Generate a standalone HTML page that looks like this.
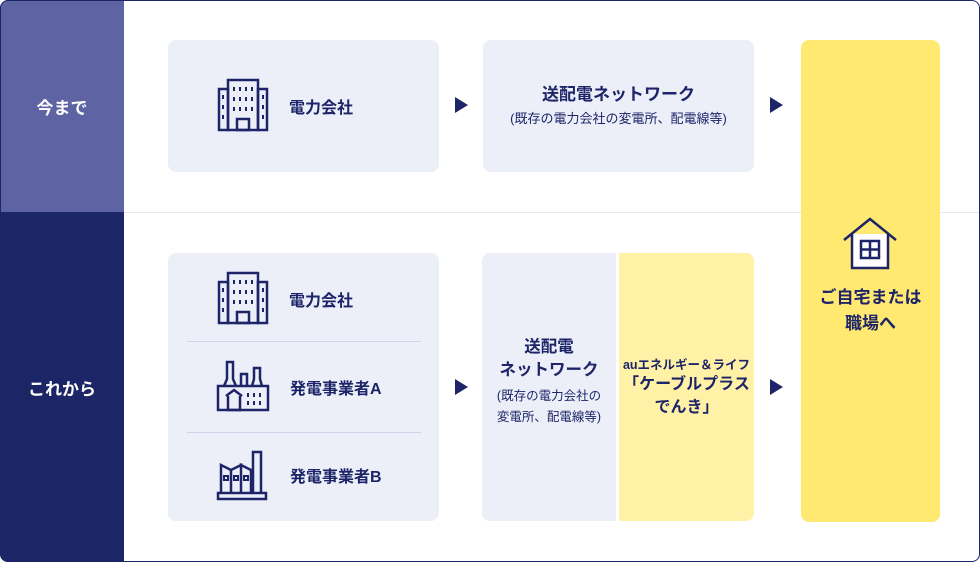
<!DOCTYPE html>
<html><head><meta charset="utf-8"><style>
*{margin:0;padding:0;box-sizing:border-box}
body{width:980px;height:562px;background:#fff;font-family:"Liberation Sans","Noto Sans CJK JP",sans-serif;color:#1d2468;font-weight:bold;position:relative;overflow:hidden}
.wrap{position:absolute;left:0;top:0;width:980px;height:562px;border-radius:8px;overflow:hidden}
.border{position:absolute;left:0;top:0;width:980px;height:562px;border:1px solid #1d2468;border-radius:8px;pointer-events:none}
.abs{position:absolute}
.lbl{position:absolute;left:0;width:124px;color:#fff;display:flex;align-items:center;justify-content:center;font-size:17px}
.box{position:absolute;background:#eceff8;border-radius:8px}
.t{position:absolute;font-size:16px;white-space:nowrap}
.arrow{position:absolute;width:0;height:0;border-top:8px solid transparent;border-bottom:8px solid transparent;border-left:13px solid #1d2468}
.c{text-align:center;line-height:22px}
</style></head><body>
<div class="wrap">
<div class="lbl" style="top:0;height:212px;background:#5d63a3">今まで</div>
<div class="lbl" style="top:212px;height:350px;background:#1c2566">これから</div>
<div class="abs" style="left:124px;top:212px;width:856px;height:1px;background:#e6e8f0"></div>

<div class="box" style="left:168px;top:40px;width:271px;height:132px"></div>
<div class="box" style="left:483px;top:40px;width:271px;height:132px"></div>
<div class="box" style="left:168px;top:253px;width:271px;height:268px"></div>
<div class="box" style="left:482px;top:253px;width:272px;height:268px"></div>
<div class="abs" style="left:619px;top:253px;width:135px;height:268px;background:#fff2a6;border-radius:0 8px 8px 0"></div>
<div class="abs" style="left:616px;top:253px;width:3px;height:268px;background:#fff"></div>
<div class="abs" style="left:801px;top:40px;width:139px;height:482px;background:#ffe971;border-radius:8px"></div>

<div class="abs" style="left:187px;top:341px;width:234px;height:1px;background:#cdd3e8"></div>
<div class="abs" style="left:187px;top:432px;width:234px;height:1px;background:#cdd3e8"></div>

<svg class="abs" style="left:217px;top:78px" width="52" height="54" viewBox="0 0 52 54" fill="none" stroke="#1d2468" stroke-width="2.5">
<rect x="11" y="2" width="30" height="50"/><rect x="2" y="11" width="9" height="41"/><rect x="41" y="11" width="9" height="41"/><rect x="20" y="41" width="12" height="11"/>
<g stroke-width="2"><path d="M17 9v4M23 9v4M29 9v4M35 9v4M17 19v4M23 19v4M29 19v4M35 19v4M17 29v4M23 29v4M29 29v4M35 29v4M6 17v4M6 27v4M6 37v4M46 17v4M46 27v4M46 37v4"/></g></svg>
<svg class="abs" style="left:217px;top:271px" width="52" height="54" viewBox="0 0 52 54" fill="none" stroke="#1d2468" stroke-width="2.5">
<rect x="11" y="2" width="30" height="50"/><rect x="2" y="11" width="9" height="41"/><rect x="41" y="11" width="9" height="41"/><rect x="20" y="41" width="12" height="11"/>
<g stroke-width="2"><path d="M17 9v4M23 9v4M29 9v4M35 9v4M17 19v4M23 19v4M29 19v4M35 19v4M17 29v4M23 29v4M29 29v4M35 29v4M6 17v4M6 27v4M6 37v4M46 17v4M46 27v4M46 37v4"/></g></svg>
<svg class="abs" style="left:216px;top:360px" width="54" height="52" viewBox="0 0 54 52" fill="none" stroke="#1d2468" stroke-width="2.5">
<path d="M2 26h50v24H2z"/><path d="M8 26l3-7V2h6v17l3 7M25 26V14h6v12M36 26l2-7V8h6v11l2 7"/>
<path d="M10 36l8-6 8 6M12 36v14h12V36"/><g stroke-width="2"><path d="M32 33v4M38 33v4M44 33v4M32 41v4M38 41v4M44 41v4"/></g></svg>
<svg class="abs" style="left:216px;top:450px" width="52" height="52" viewBox="0 0 52 52" fill="none" stroke="#1d2468" stroke-width="2.5">
<path d="M2 43h48v6H2zM5 43V15l10 5v23M15 43V20l10-5v28M25 43V15l10 5v23M37 43V2h8v41"/>
<g stroke-width="2"><rect x="8" y="26" width="4" height="4"/><rect x="18" y="26" width="4" height="4"/><rect x="28" y="26" width="4" height="4"/></g></svg>

<div class="t" style="left:289px;top:94px">電力会社</div>
<div class="t" style="left:289px;top:287px">電力会社</div>
<div class="t" style="left:290px;top:375px">発電事業者A</div>
<div class="t" style="left:290px;top:463px">発電事業者B</div>

<div class="abs c" style="left:483px;top:84px;width:271px;font-size:17px">送配電ネットワーク</div>
<div class="abs c" style="left:483px;top:108px;width:271px;font-size:13px;font-weight:normal">(既存の電力会社の変電所、配電線等)</div>

<div class="abs c" style="left:482px;top:336px;width:134px;font-size:16.5px;line-height:23px">送配電<br>ネットワーク</div>
<div class="abs" style="left:482px;top:386px;width:134px;text-align:center;font-size:12.5px;font-weight:normal;line-height:21px">(既存の電力会社の<br>変電所、配電線等)</div>

<div class="abs" style="left:619px;top:354px;width:135px;text-align:center;font-size:12.5px">auエネルギー＆ライフ</div>
<div class="abs" style="left:619px;top:373px;width:135px;text-align:center;font-size:16px;line-height:23px">「ケーブルプラス<br>でんき」</div>

<svg class="abs" style="left:842px;top:216px" width="56" height="54" viewBox="0 0 56 54" fill="none" stroke="#1d2468" stroke-width="2.5">
<path d="M2 24L28 3l26 21" /><path d="M10 18v34h36V18" fill="#fff"/><rect x="19" y="25" width="18" height="17"/><path d="M28 25v17M19 33.5h18"/></svg>
<div class="abs" style="left:801px;top:285px;width:139px;text-align:center;font-size:17px;line-height:26px">ご自宅または<br>職場へ</div>

<div class="arrow" style="left:455px;top:97px"></div>
<div class="arrow" style="left:770px;top:97px"></div>
<div class="arrow" style="left:455px;top:379px"></div>
<div class="arrow" style="left:770px;top:379px"></div>
</div>
<div class="border"></div>
</body></html>
